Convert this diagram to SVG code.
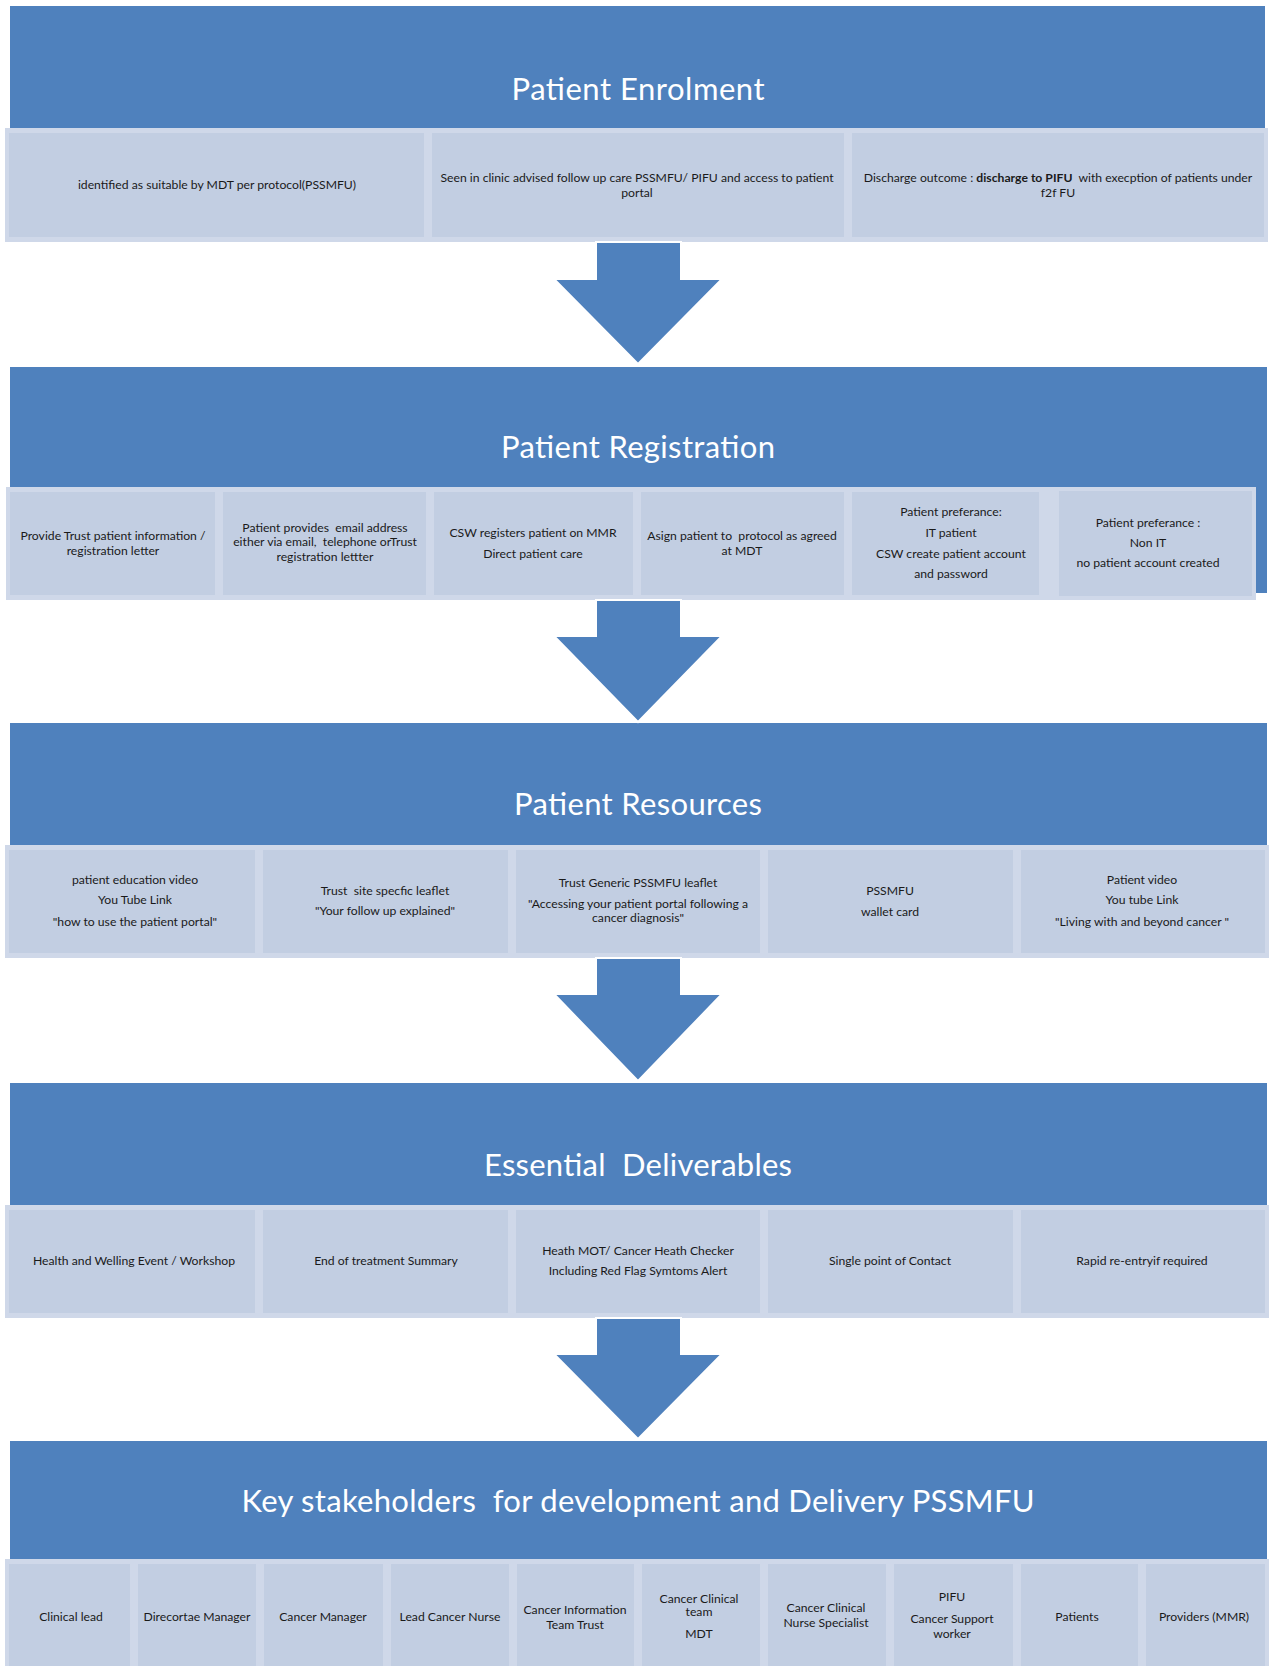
<svg xmlns="http://www.w3.org/2000/svg" width="1269" height="1666" viewBox="0 0 1269 1666">
<style>
.hdr{fill:#4F81BD}
.lite{fill:#CFD8E9}
.cell{fill:#C2CEE2}
.title{font-family:Lato,"Liberation Sans",sans-serif;font-size:31px;fill:#FFFFFF;text-anchor:middle}
.t{font-family:Lato,"Liberation Sans",sans-serif;font-size:12.2px;fill:#1a1a1a;text-anchor:middle}
.b{font-weight:bold}
.arrow{fill:#4F81BD;stroke:#FFFFFF;stroke-width:2;stroke-linejoin:miter}
</style>
<rect width="1269" height="1666" fill="#FFFFFF"/>

<g id="patient-enrolment">
  <rect class="hdr" x="10" y="6" width="1255" height="234"/>
  <text class="title" x="638" y="100" textLength="253">Patient Enrolment</text>
  <rect class="lite" x="5" y="128" width="1263" height="114"/>
  <g id="pe-1"><rect class="cell" x="9" y="133" width="415" height="104"/>
    <text class="t" x="217" y="189">identified as suitable by MDT per protocol(PSSMFU)</text></g>
  <g id="pe-2"><rect class="cell" x="432" y="133" width="412" height="104"/>
    <text class="t" x="637" y="181.5">Seen in clinic advised follow up care PSSMFU/ PIFU and access to patient</text>
    <text class="t" x="637" y="196.5">portal</text></g>
  <g id="pe-3"><rect class="cell" x="852" y="133" width="412" height="104"/>
    <text class="t" x="1058" y="181.5" xml:space="preserve">Discharge outcome : <tspan class="b">discharge to PIFU</tspan>  with execption of patients under</text>
    <text class="t" x="1058" y="196.5">f2f FU</text></g>
</g>

<g id="patient-registration">
  <rect class="hdr" x="10" y="367" width="1257" height="226"/>
  <text class="title" x="638" y="458" textLength="274">Patient Registration</text>
  <rect class="lite" x="6" y="487" width="1040" height="113"/>
  <g id="pr-1"><rect class="cell" x="10" y="492" width="205" height="103"/>
    <text class="t" x="113" y="539.5">Provide Trust patient information /</text>
    <text class="t" x="113" y="554.5">registration letter</text></g>
  <g id="pr-2"><rect class="cell" x="223" y="492" width="203" height="103"/>
    <text class="t" x="325" y="532" xml:space="preserve">Patient provides  email address</text>
    <text class="t" x="325" y="546" xml:space="preserve">either via email,  telephone orTrust</text>
    <text class="t" x="325" y="561">registration lettter</text></g>
  <g id="pr-3"><rect class="cell" x="434" y="492" width="199" height="103"/>
    <text class="t" x="533" y="536.5">CSW registers patient on MMR</text>
    <text class="t" x="533" y="557.5">Direct patient care</text></g>
  <g id="pr-4"><rect class="cell" x="641" y="492" width="203" height="103"/>
    <text class="t" x="742" y="539.5" xml:space="preserve">Asign patient to  protocol as agreed</text>
    <text class="t" x="742" y="554.5">at MDT</text></g>
  <g id="pr-5"><rect class="cell" x="852" y="492" width="187" height="103"/>
    <text class="t" x="951" y="516">Patient preferance:</text>
    <text class="t" x="951" y="536.5">IT patient</text>
    <text class="t" x="951" y="557.5">CSW create patient account</text>
    <text class="t" x="951" y="578">and password</text></g>
  <g id="pr-6"><rect class="lite" x="1041" y="487" width="215" height="113"/>
    <rect class="cell" x="1059" y="491" width="193" height="105"/>
    <text class="t" x="1148" y="527">Patient preferance :</text>
    <text class="t" x="1148" y="547">Non IT</text>
    <text class="t" x="1148" y="567">no patient account created</text></g>
</g>

<g id="patient-resources">
  <rect class="hdr" x="10" y="723" width="1257" height="232"/>
  <text class="title" x="638" y="815" textLength="248">Patient Resources</text>
  <rect class="lite" x="5" y="845" width="1264" height="113"/>
  <g id="rs-1"><rect class="cell" x="9" y="850" width="246" height="103"/>
    <text class="t" x="135" y="884">patient education video</text>
    <text class="t" x="135" y="904">You Tube Link</text>
    <text class="t" x="135" y="925.5">"how to use the patient portal"</text></g>
  <g id="rs-2"><rect class="cell" x="263" y="850" width="245" height="103"/>
    <text class="t" x="385" y="894.5" xml:space="preserve">Trust  site specfic leaflet</text>
    <text class="t" x="385" y="915">"Your follow up explained"</text></g>
  <g id="rs-3"><rect class="cell" x="516" y="850" width="244" height="103"/>
    <text class="t" x="638" y="887">Trust Generic PSSMFU leaflet</text>
    <text class="t" x="638" y="908">"Accessing your patient portal following a</text>
    <text class="t" x="638" y="922">cancer diagnosis"</text></g>
  <g id="rs-4"><rect class="cell" x="768" y="850" width="245" height="103"/>
    <text class="t" x="890" y="894.5">PSSMFU</text>
    <text class="t" x="890" y="916">wallet card</text></g>
  <g id="rs-5"><rect class="cell" x="1021" y="850" width="244" height="103"/>
    <text class="t" x="1142" y="884">Patient video</text>
    <text class="t" x="1142" y="904">You tube Link</text>
    <text class="t" x="1142" y="925.5">"Living with and beyond cancer "</text></g>
</g>

<g id="essential-deliverables">
  <rect class="hdr" x="10" y="1083" width="1257" height="232"/>
  <text class="title" x="638" y="1176" textLength="308" xml:space="preserve">Essential  Deliverables</text>
  <rect class="lite" x="5" y="1205" width="1264" height="113"/>
  <g id="ed-1"><rect class="cell" x="9" y="1210" width="246" height="103"/>
    <text class="t" x="134" y="1264.5">Health and Welling Event / Workshop</text></g>
  <g id="ed-2"><rect class="cell" x="263" y="1210" width="245" height="103"/>
    <text class="t" x="386" y="1264.5">End of treatment Summary</text></g>
  <g id="ed-3"><rect class="cell" x="516" y="1210" width="244" height="103"/>
    <text class="t" x="638" y="1255">Heath MOT/ Cancer Heath Checker</text>
    <text class="t" x="638" y="1275">Including Red Flag Symtoms Alert</text></g>
  <g id="ed-4"><rect class="cell" x="768" y="1210" width="245" height="103"/>
    <text class="t" x="890" y="1264.5">Single point of Contact</text></g>
  <g id="ed-5"><rect class="cell" x="1021" y="1210" width="244" height="103"/>
    <text class="t" x="1142" y="1264.5">Rapid re-entryif required</text></g>
</g>

<g id="key-stakeholders">
  <rect class="hdr" x="10" y="1441" width="1257" height="225"/>
  <text class="title" x="638" y="1512" textLength="793" xml:space="preserve">Key stakeholders  for development and Delivery PSSMFU</text>
  <rect class="lite" x="5" y="1559" width="1264" height="107"/>
  <g id="ks-1"><rect class="cell" x="9" y="1564" width="121" height="102"/>
    <text class="t" x="71" y="1620.5">Clinical lead</text></g>
  <g id="ks-2"><rect class="cell" x="138" y="1564" width="118" height="102"/>
    <text class="t" x="197" y="1620.5">Direcortae Manager</text></g>
  <g id="ks-3"><rect class="cell" x="264" y="1564" width="119" height="102"/>
    <text class="t" x="323" y="1620.5">Cancer Manager</text></g>
  <g id="ks-4"><rect class="cell" x="391" y="1564" width="118" height="102"/>
    <text class="t" x="450" y="1620.5">Lead Cancer Nurse</text></g>
  <g id="ks-5"><rect class="cell" x="517" y="1564" width="117" height="102"/>
    <text class="t" x="575" y="1614">Cancer Information</text>
    <text class="t" x="575" y="1629">Team Trust</text></g>
  <g id="ks-6"><rect class="cell" x="642" y="1564" width="118" height="102"/>
    <text class="t" x="699" y="1602.5">Cancer Clinical</text>
    <text class="t" x="699" y="1616">team</text>
    <text class="t" x="699" y="1637.5">MDT</text></g>
  <g id="ks-7"><rect class="cell" x="768" y="1564" width="118" height="102"/>
    <text class="t" x="826" y="1612">Cancer Clinical</text>
    <text class="t" x="826" y="1627">Nurse Specialist</text></g>
  <g id="ks-8"><rect class="cell" x="894" y="1564" width="119" height="102"/>
    <text class="t" x="952" y="1601">PIFU</text>
    <text class="t" x="952" y="1622.5">Cancer Support</text>
    <text class="t" x="952" y="1637.5">worker</text></g>
  <g id="ks-9"><rect class="cell" x="1021" y="1564" width="117" height="102"/>
    <text class="t" x="1077" y="1620.5">Patients</text></g>
  <g id="ks-10"><rect class="cell" x="1146" y="1564" width="119" height="102"/>
    <text class="t" x="1204" y="1620.5">Providers (MMR)</text></g>
</g>

<g id="connectors">
  <polygon class="arrow" points="596,242 681,242 681,279 722,279 638,364 554,279 596,279"/>
  <polygon class="arrow" points="596,600 681,600 681,636 722,636 638,722 554,636 596,636"/>
  <polygon class="arrow" points="596,958 681,958 681,994 722,994 638,1081 554,994 596,994"/>
  <polygon class="arrow" points="596,1318 681,1318 681,1354 722,1354 638,1439 554,1354 596,1354"/>
</g>
</svg>
